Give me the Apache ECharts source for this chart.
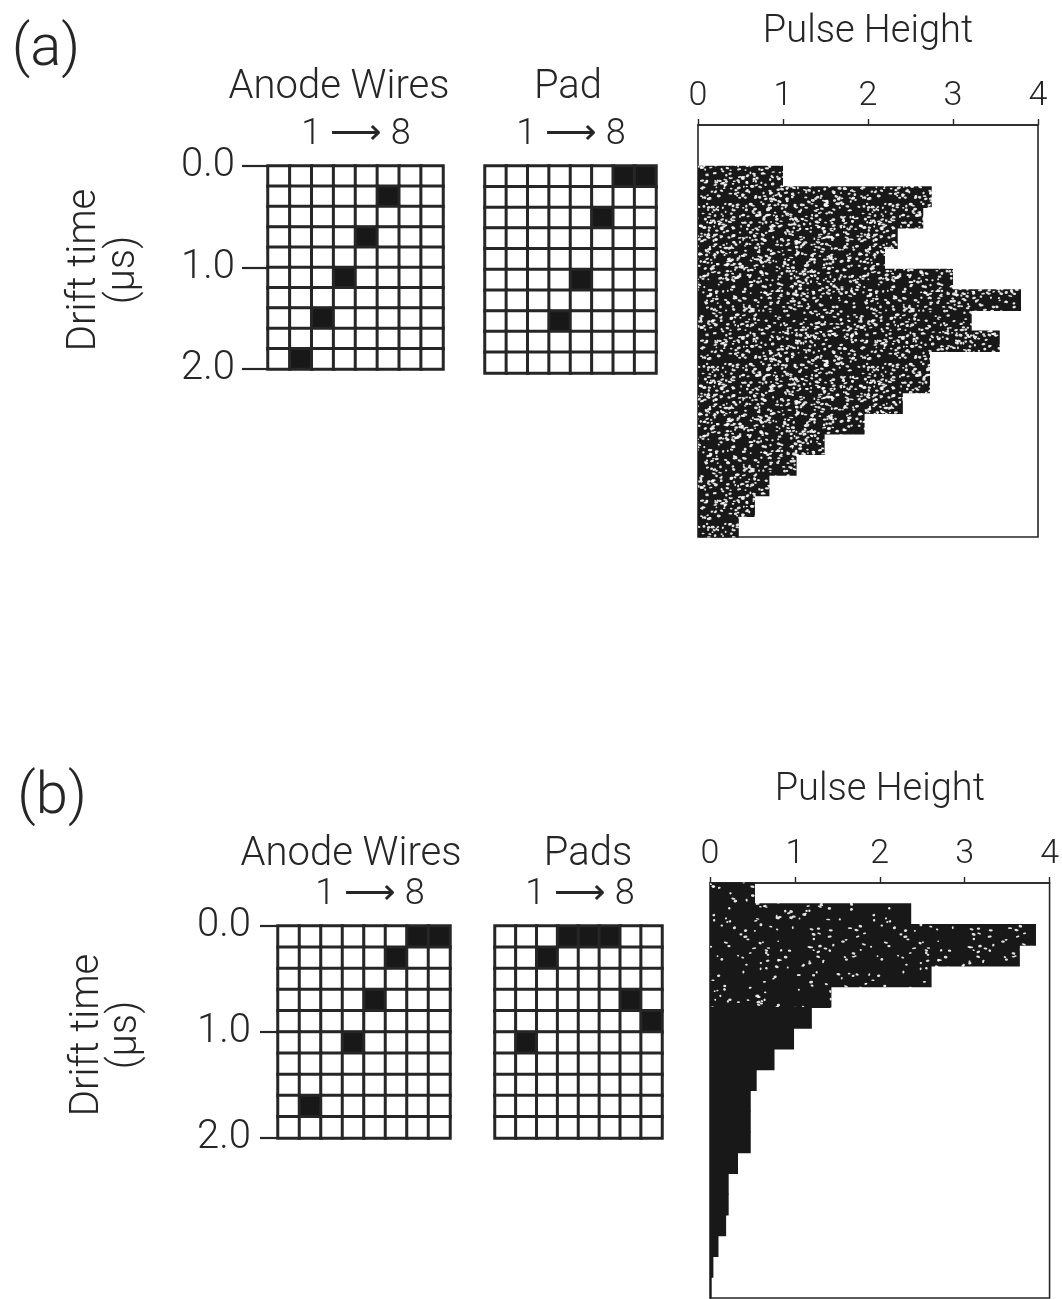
<!DOCTYPE html>
<html>
<head>
<meta charset="utf-8">
<script src="https://cdn.jsdelivr.net/npm/echarts@6/dist/echarts.min.js"></script>
<style>
  html, body { margin: 0; padding: 0; background: #ffffff; }
  #chart { width: 1062px; height: 1299px; }
</style>
</head>
<body>
<div id="chart"></div>
<script>
// Readout channels (1 → 8) and drift-time rows, 0.2 µs per row from 0 to 2 µs
const channels = ['1', '2', '3', '4', '5', '6', '7', '8'];
const timeRows = ['0.0', '0.2', '0.4', '0.6', '0.8', '1.0', '1.2', '1.4', '1.6', '1.8'];
const pulseTicks = [0, 1, 2, 3, 4];

// Hit cells as [channel index, time-row index]
const hitsWiresA = [[5, 1], [4, 3], [3, 5], [2, 7], [1, 9]];
const hitsPadA   = [[6, 0], [7, 0], [5, 2], [4, 5], [3, 7]];
const hitsWiresB = [[6, 0], [7, 0], [5, 1], [4, 3], [3, 5], [1, 8]];
const hitsPadsB  = [[3, 0], [4, 0], [5, 0], [2, 1], [6, 3], [7, 4], [1, 5]];

// Summed pulse height per 0.2 µs drift-time bin
const binsA = ['-0.4', '-0.2', '0.0', '0.2', '0.4', '0.6', '0.8', '1.0', '1.2', '1.4',
               '1.6', '1.8', '2.0', '2.2', '2.4', '2.6', '2.8', '3.0', '3.2', '3.4'];
const pulseA = [null, null, 1.00, 2.75, 2.65, 2.35, 2.20, 3.00, 3.80, 3.22,
                3.55, 2.73, 2.73, 2.41, 1.96, 1.49, 1.16, 0.84, 0.67, 0.48];

const binsB = ['0.0', '0.2', '0.4', '0.6', '0.8', '1.0', '1.2', '1.4', '1.6', '1.8',
               '2.0', '2.2', '2.4', '2.6', '2.8', '3.0', '3.2', '3.4', '3.6', '3.8'];
const pulseB = [0.53, 2.37, 3.84, 3.65, 2.61, 1.43, 1.20, 0.99, 0.76, 0.55,
                0.48, 0.48, 0.48, 0.33, 0.22, 0.22, 0.19, 0.10, 0.04, 0.02];

const FONT = "Roboto, 'DejaVu Sans', sans-serif";
const INK = '#262626';
const FILL = '#181818';

// Speckled halftone fill tile (deterministic grain, anchored to the canvas so it runs across bins)
function speckleTile(count, seed) {
  let s = seed >>> 0;
  const rnd = () => {
    s = (s + 0x6D2B79F5) >>> 0;
    let t = s;
    t = Math.imul(t ^ (t >>> 15), t | 1);
    t ^= t + Math.imul(t ^ (t >>> 7), t | 61);
    return ((t ^ (t >>> 14)) >>> 0) / 4294967296;
  };
  const size = 160;
  const cv = document.createElement('canvas');
  cv.width = size; cv.height = size;
  const ctx = cv.getContext('2d');
  ctx.fillStyle = FILL;
  ctx.fillRect(0, 0, size, size);
  ctx.fillStyle = 'rgba(255,255,255,0.88)';
  for (let i = 0; i < count; i++) {
    const x = rnd() * size, y = rnd() * size;
    const w = 1.2 + rnd() * 2.6, h = 0.9 + rnd() * 1.4;
    const rot = (rnd() - 0.5) * 0.6;
    for (const dx of [0, -size, size]) {
      for (const dy of [0, -size, size]) {
        ctx.beginPath();
        ctx.ellipse(x + dx, y + dy, w / 2 + 0.3, h / 2 + 0.3, rot, 0, Math.PI * 2);
        ctx.fill();
      }
    }
  }
  return { image: cv, repeat: 'repeat' };
}
const speckleDense = speckleTile(1200, 7);
const speckleSparse = speckleTile(260, 19);

function cells(hits) {
  const out = [];
  for (let r = 0; r < timeRows.length; r++) {
    for (let c = 0; c < channels.length; c++) {
      const hit = hits.some(h => h[0] === c && h[1] === r);
      out.push([c, r, hit ? 1 : 0]);
    }
  }
  return out;
}

function channelAxis(gi) {
  return { type: 'category', gridIndex: gi, data: channels, show: false };
}
function rowAxis(gi) {
  return { type: 'category', gridIndex: gi, data: timeRows, inverse: true, show: false, position: 'left' };
}
function driftAxis(gi, tickLen, margin) {
  return {
    type: 'value', gridIndex: gi, position: 'left', min: 0, max: 2, interval: 1, inverse: true,
    axisLine: { show: false },
    axisTick: { show: true, length: tickLen, lineStyle: { color: INK, width: 2.2 } },
    axisLabel: { formatter: v => v.toFixed(1), fontFamily: FONT, fontWeight: 300, fontSize: 40, color: INK, margin: margin },
    splitLine: { show: false }
  };
}
function pulseAxis(gi) {
  return {
    type: 'value', gridIndex: gi, position: 'top', min: pulseTicks[0], max: pulseTicks[pulseTicks.length - 1], interval: 1,
    name: 'Pulse Height', nameLocation: 'middle', nameGap: 74,
    nameTextStyle: { fontFamily: FONT, fontWeight: 300, fontSize: 38, color: INK },
    axisLine: { show: true, lineStyle: { color: INK, width: 1.6 } },
    axisTick: { show: true, length: 6, lineStyle: { color: INK, width: 1.4 } },
    axisLabel: { fontFamily: FONT, fontWeight: 300, fontSize: 34, color: INK, margin: 12 },
    splitLine: { show: false }
  };
}
function binAxis(gi, bins) {
  return { type: 'category', gridIndex: gi, data: bins, inverse: true, show: false, position: 'left' };
}
function grid(r) {
  return Object.assign({ containLabel: false }, r);
}
function hitMap(xi, yi, hits) {
  return {
    type: 'heatmap', xAxisIndex: xi, yAxisIndex: yi, data: cells(hits), silent: true,
    itemStyle: { borderColor: INK, borderWidth: 3 },
    emphasis: { disabled: true }
  };
}
// Horizontal histogram bins; neighbouring bins overlap by a fraction of a pixel so no seams show
function histogram(xi, yi, values, pattern, patternBins) {
  return {
    type: 'custom', xAxisIndex: xi, yAxisIndex: yi, silent: true,
    encode: { x: 0, y: 1 },
    data: values.map((v, i) => [v, i]).filter(d => d[0] != null),
    renderItem: (params, api) => {
      const v = api.value(0), idx = api.value(1);
      const p0 = api.coord([0, idx]);
      const p1 = api.coord([v, idx]);
      const band = api.size([0, 1])[1];
      return {
        type: 'rect',
        shape: { x: p0[0], y: p0[1] - band / 2 - 0.5, width: p1[0] - p0[0], height: band + 1 },
        style: { fill: idx < patternBins ? pattern : FILL }
      };
    }
  };
}
function txt(text, x, y, size, extra) {
  return Object.assign({
    type: 'text', x: x, y: y, silent: true,
    style: { text: text, font: '300 ' + size + 'px ' + FONT, fill: INK, align: 'center', verticalAlign: 'middle' }
  }, extra || {});
}

const chart = echarts.init(document.getElementById('chart'), null, { renderer: 'canvas' });

chart.setOption({
  backgroundColor: '#ffffff',
  animation: false,
  grid: [
    grid({ left: 268, top: 166, width: 175, height: 203 }),
    grid({ left: 485, top: 166, width: 171, height: 207 }),
    grid({ left: 698, top: 125, width: 340, height: 412, show: true, borderColor: INK, borderWidth: 1.6 }),
    grid({ left: 278, top: 926, width: 172, height: 212 }),
    grid({ left: 495, top: 926, width: 167, height: 212 }),
    grid({ left: 710, top: 883, width: 340, height: 415, show: true, borderColor: INK, borderWidth: 1.6 })
  ],
  xAxis: [
    channelAxis(0), channelAxis(1), pulseAxis(2),
    channelAxis(3), channelAxis(4), pulseAxis(5)
  ],
  yAxis: [
    rowAxis(0), rowAxis(1), binAxis(2, binsA),
    rowAxis(3), rowAxis(4), binAxis(5, binsB),
    driftAxis(0, 26, 33), driftAxis(3, 18, 27)
  ],
  visualMap: {
    type: 'piecewise', show: false, seriesIndex: [0, 1, 2, 3], dimension: 2,
    pieces: [{ value: 0, color: '#ffffff' }, { value: 1, color: FILL }]
  },
  series: [
    hitMap(0, 0, hitsWiresA),
    hitMap(1, 1, hitsPadA),
    hitMap(3, 3, hitsWiresB),
    hitMap(4, 4, hitsPadsB),
    histogram(2, 2, pulseA, speckleDense, binsA.length),
    histogram(5, 5, pulseB, speckleSparse, 6)
  ],
  graphic: [
    txt('(a)', 46, 50, 58),
    txt('Anode Wires', 339, 88, 40),
    txt('Pad', 568, 88, 40),
    txt('1 \u27F6 8', 356, 135, 36),
    txt('1 \u27F6 8', 571, 135, 36),
    txt('Drift time', 85, 270, 40, { rotation: Math.PI / 2 }),
    txt('(\u03BCs)', 124, 270, 40, { rotation: Math.PI / 2 }),

    txt('(b)', 52, 798, 58),
    txt('Anode Wires', 351, 855, 40),
    txt('Pads', 588, 855, 40),
    txt('1 \u27F6 8', 370, 895, 36),
    txt('1 \u27F6 8', 580, 895, 36),
    txt('Drift time', 88, 1035, 40, { rotation: Math.PI / 2 }),
    txt('(\u03BCs)', 126, 1035, 40, { rotation: Math.PI / 2 })
  ]
});
</script>
</body>
</html>
